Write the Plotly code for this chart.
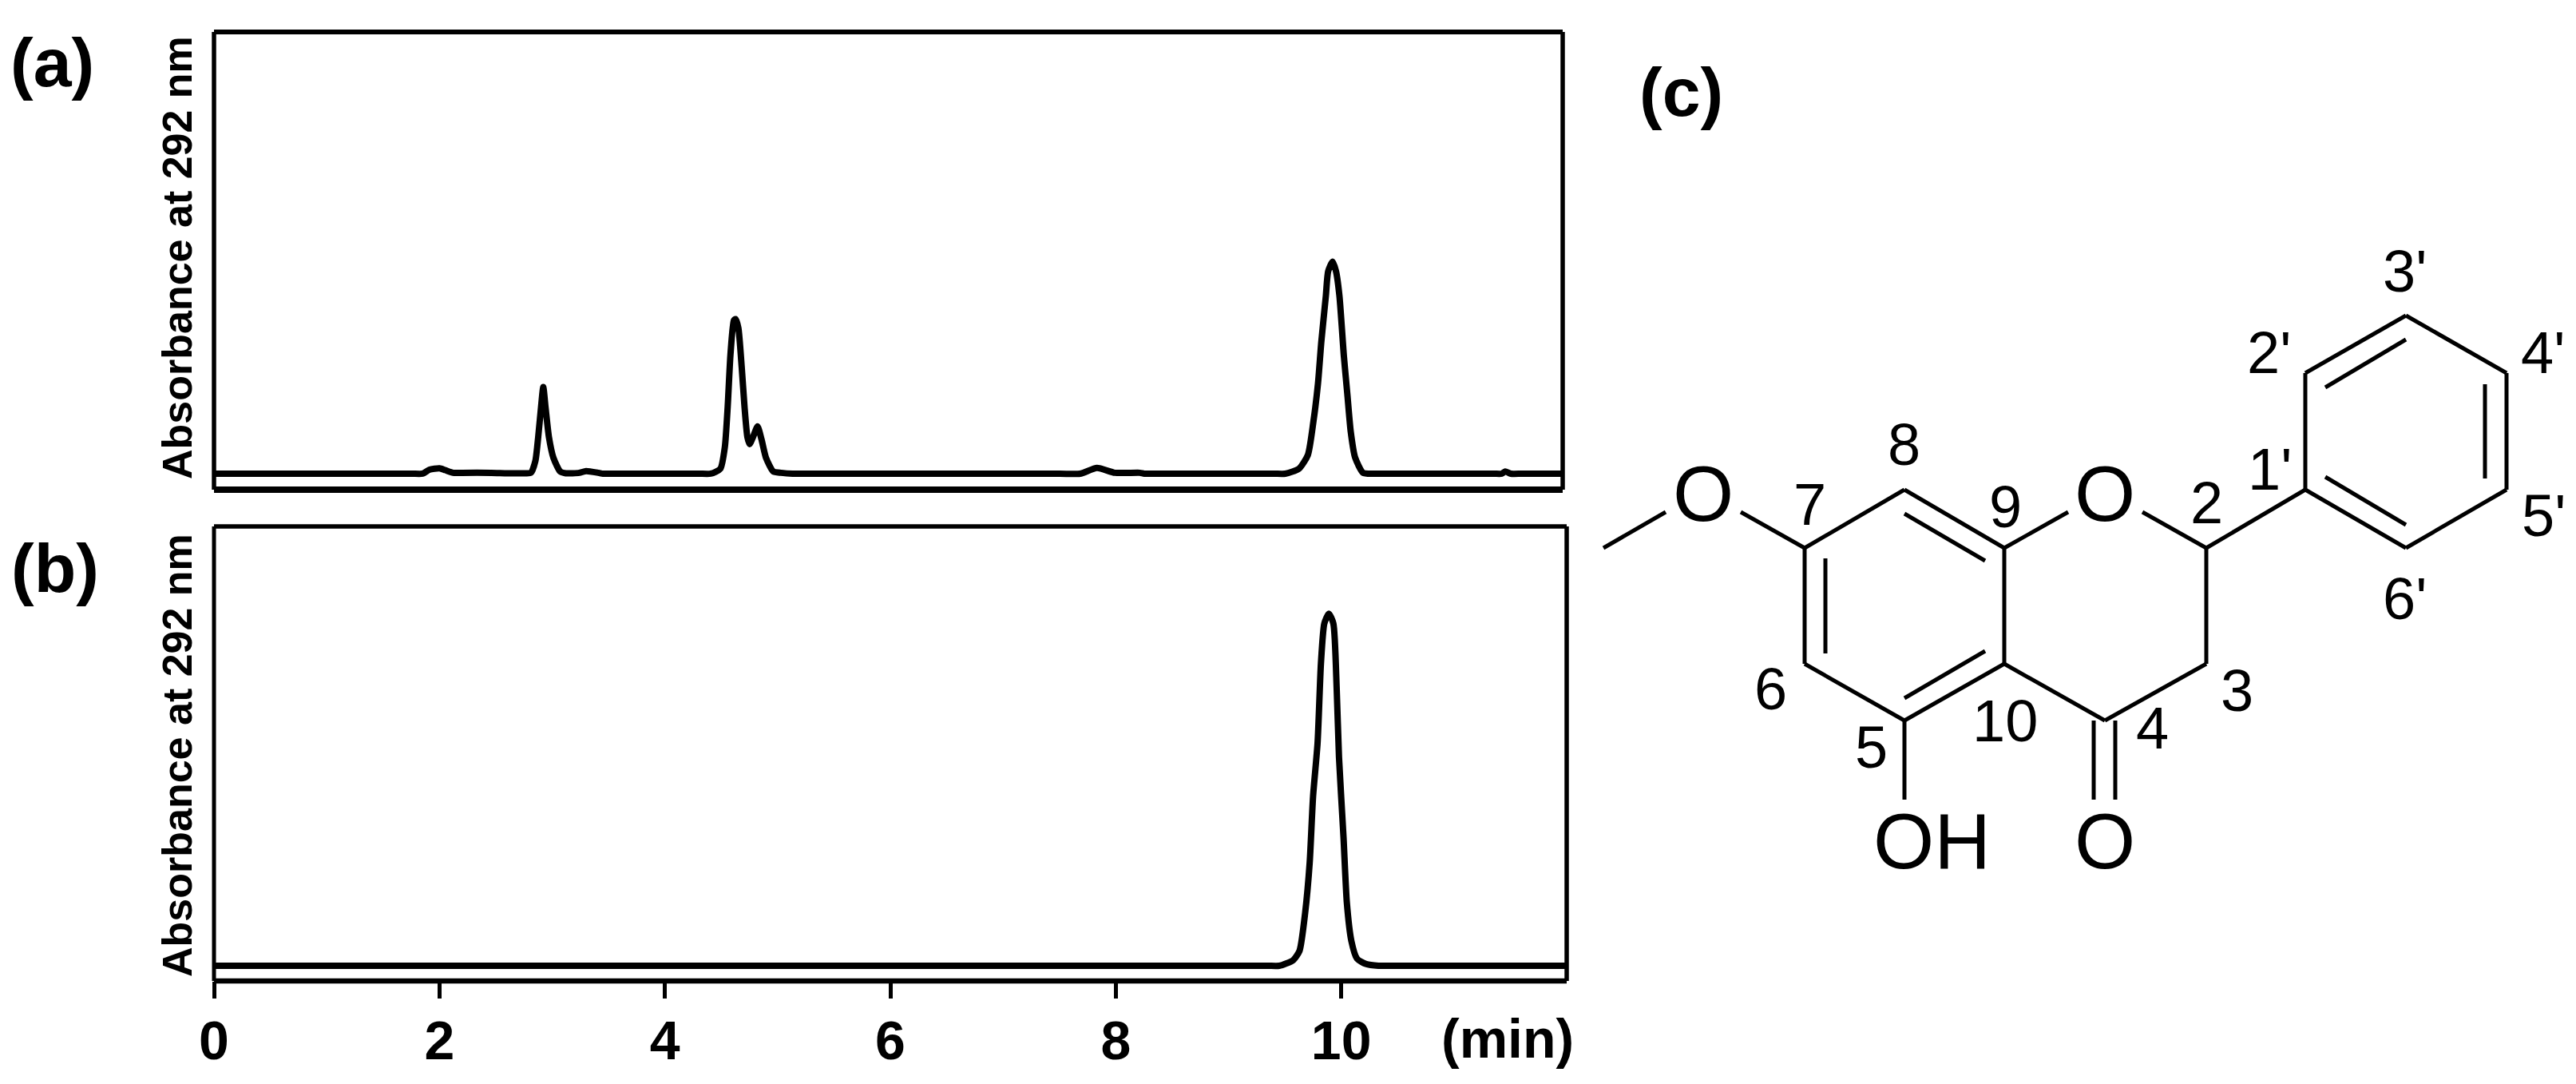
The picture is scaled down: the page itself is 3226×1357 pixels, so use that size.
"""Chromatograms (a, b) and the flavanone structure (c)."""
import plotly.graph_objects as go

FONT = "Liberation Sans"
BLACK = "#000000"

# trace (a): retention time in min, absorbance in arbitrary units
time_a = [
    0, 1.0, 1.75, 1.85, 1.91, 2.0, 2.05, 2.12, 2.2, 2.46, 2.6, 2.75, 2.81, 2.85, 2.875, 2.90, 2.92, 2.94, 2.97,
    3.01, 3.07, 3.12, 3.18, 3.24, 3.30, 3.41, 3.45, 3.6, 4.0, 4.3, 4.405, 4.49, 4.53, 4.555, 4.58, 4.61,
    4.625, 4.65, 4.68, 4.705, 4.73, 4.75, 4.78, 4.82, 4.855, 4.895, 4.96, 5.03, 5.13, 5.3, 6.5, 7.5,
    7.68, 7.83, 7.99, 8.21, 8.25, 8.4, 9.0, 9.4, 9.50, 9.62, 9.70, 9.75, 9.79, 9.82, 9.86, 9.88, 9.92,
    9.95, 9.98, 10.02, 10.05, 10.08, 10.12, 10.19, 10.28, 10.5, 11.0, 11.35, 11.42, 11.45, 11.5, 11.6, 11.98,
]
absorbance_a = [
    0, 0, 0, 0, 0.9, 1.2, 0.8, 0.2, 0.2, 0.2, 0.1, 0.1, 0.2, 2.9, 8.3, 15, 19.6, 15, 8.3,
    3.6, 0.5, 0.1, 0.1, 0.2, 0.6, 0.2, 0, 0, 0, 0, 0, 1.1, 6, 15, 27, 34.7,
    35, 33, 24, 15, 8.3, 6.7, 8.3, 10.7, 7.8, 3.6, 0.5, 0.2, 0, 0, 0, 0,
    0, 1.3, 0.2, 0.2, 0, 0, 0, 0, 0, 1.1, 4.2, 11.9, 20.4, 30, 40.3, 45.8, 48,
    45.8, 40.3, 26.5, 18.1, 9.6, 3.6, 0.2, 0, 0, 0, 0, 0, 0.5, 0, 0, 0,
]

# trace (b)
time_b = [
    0, 3, 6, 9, 9.35, 9.45, 9.575, 9.63, 9.68, 9.72, 9.75, 9.79, 9.82, 9.85, 9.89, 9.93, 9.96,
    9.98, 10.02, 10.05, 10.09, 10.14, 10.22, 10.33, 10.5, 11, 12.02,
]
absorbance_b = [
    0, 0, 0, 0, 0, 0, 1.3, 3.4, 12, 23.3, 38.3, 50.4, 68.5, 77.5, 79.7, 77.5, 62.5,
    47.3, 29.2, 14.2, 5.6, 1.6, 0.4, 0, 0, 0, 0,
]

x_ticks = [0, 2, 4, 6, 8, 10]

# structure: one entry per bond, on the page grid of the overlay axes
bond_x0 = [2008, 2180, 2260, 2385, 2510, 2510, 2385, 2260, 2286, 2385, 2486, 2510, 2683,
           2763, 2763, 2636, 2763, 2887, 3013, 3139, 3139, 3013, 2887, 2912, 3112, 3013,
           2385, 2622, 2649]
bond_y0 = [686, 641, 686, 613, 686, 831, 902, 831, 699, 643, 815, 686, 641,
           686, 831, 902, 686, 467, 395, 467, 613, 686, 467, 485, 481, 657,
           902, 902, 902]
bond_x1 = [2086, 2260, 2385, 2510, 2510, 2385, 2260, 2260, 2286, 2486, 2385, 2590, 2763,
           2763, 2636, 2510, 2887, 3013, 3139, 3139, 3013, 2887, 2887, 3013, 3112, 2912,
           2385, 2622, 2649]
bond_y1 = [641, 686, 613, 686, 831, 902, 831, 686, 818, 702, 874, 641, 686,
           831, 902, 831, 613, 395, 467, 613, 686, 613, 613, 425, 599, 597,
           1001, 1001, 1001]

atom_text = ["O", "O", "O", "OH"]
atom_x = [2133, 2636, 2636, 2419]
atom_y = [618, 618, 1053, 1053]

number_text = ["3'", "2'", "4'", "1'", "5'", "6'", "8", "7", "9", "2", "6", "3", "10", "4", "5"]
number_x = [3011, 2841, 3184, 2842, 3185, 3011, 2384, 2266, 2511, 2763, 2217, 2801, 2511, 2695, 2343]
number_y = [339, 441, 441, 587, 645, 749, 556, 631, 634, 629, 862, 864, 902, 911, 935]

panel_text = ["(a)", "(b)", "(c)"]
panel_x = [65, 69, 2105]
panel_y = [78, 711, 115]

ylabel_y = [323, 946]


def add_label(fig, text, x, y, size, bold=False, angle=0):
    """Put a label on the overlay axes, centred on x and y."""
    fig.add_annotation(
        text=text, x=x, y=y, xref="x3", yref="y3", xanchor="center", yanchor="middle",
        showarrow=False, textangle=angle,
        font=dict(family=FONT, size=size, color=BLACK, weight=700 if bold else 400),
    )


def add_frame(fig, xref, yref, widths):
    """Draw the box of a panel, edges in left, right, top, bottom order."""
    edges = [(0, 0, 0, 1), (1, 0, 1, 1), (0, 1, 1, 1), (0, 0, 1, 0)]
    for (x0, y0, x1, y1), width in zip(edges, widths):
        fig.add_shape(
            type="line", x0=x0, y0=y0, x1=x1, y1=y1,
            xref=f"{xref} domain", yref=f"{yref} domain",
            line=dict(color=BLACK, width=width),
        )


fig = go.Figure()
fig.add_trace(go.Scatter(
    x=time_a, y=absorbance_a, mode="lines", xaxis="x", yaxis="y", cliponaxis=False,
    line=dict(color=BLACK, width=8, shape="spline", smoothing=0.6),
))
fig.add_trace(go.Scatter(
    x=time_b, y=absorbance_b, mode="lines", xaxis="x2", yaxis="y2", cliponaxis=False,
    line=dict(color=BLACK, width=8, shape="spline", smoothing=0.6),
))

bond_xs = []
bond_ys = []
for x0, y0, x1, y1 in zip(bond_x0, bond_y0, bond_x1, bond_y1):
    bond_xs += [x0, x1, None]
    bond_ys += [y0, y1, None]
fig.add_trace(go.Scatter(
    x=bond_xs, y=bond_ys, mode="lines", xaxis="x3", yaxis="y3",
    line=dict(color=BLACK, width=5),
))

for text, x, y in zip(atom_text, atom_x, atom_y):
    add_label(fig, text, x, y, 98)
for text, x, y in zip(number_text, number_x, number_y):
    add_label(fig, text, x, y, 74)
for text, x, y in zip(panel_text, panel_x, panel_y):
    add_label(fig, text, x, y, 86, bold=True)
for y in ylabel_y:
    add_label(fig, "Absorbance at 292 nm", 222, y, 52, bold=True, angle=-90)
add_label(fig, "(min)", 1888, 1300, 68, bold=True)

add_frame(fig, "x", "y", [5.5, 5.5, 6, 8])
add_frame(fig, "x2", "y2", [5, 5.5, 5.5, 6.5])

hidden = dict(visible=False, showgrid=False, zeroline=False, automargin=False)
fig.update_layout(
    template="none",
    width=3226,
    height=1357,
    margin=dict(l=0, r=0, t=0, b=0),
    autosize=False,
    showlegend=False,
    paper_bgcolor="white",
    plot_bgcolor="rgba(0,0,0,0)",
    xaxis=dict(hidden, domain=[268 / 3226, 1957 / 3226], range=[0, 11.96]),
    yaxis=dict(hidden, domain=[1 - 613 / 1357, 1 - 40 / 1357], range=[-3.62, 100]),
    xaxis2=dict(
        domain=[268 / 3226, 1962 / 3226], range=[0, 12], anchor="y2", automargin=False,
        showgrid=False, zeroline=False, showline=False,
        tickmode="array", tickvals=x_ticks, ticks="outside", ticklen=21, tickwidth=5,
        tickcolor=BLACK, ticklabelstandoff=-6,
        tickfont=dict(family=FONT, size=68, color=BLACK, weight=700),
    ),
    yaxis2=dict(hidden, domain=[1 - 1228 / 1357, 1 - 659 / 1357], range=[-3.44, 99.46], anchor="x2"),
    xaxis3=dict(hidden, domain=[0, 1], range=[0, 3226], anchor="y3"),
    yaxis3=dict(hidden, domain=[0, 1], range=[1357, 0], anchor="x3"),
)

fig.write_html(
    "out.html",
    config={"displayModeBar": False},
    post_script="document.body.style.margin='0';",
)
